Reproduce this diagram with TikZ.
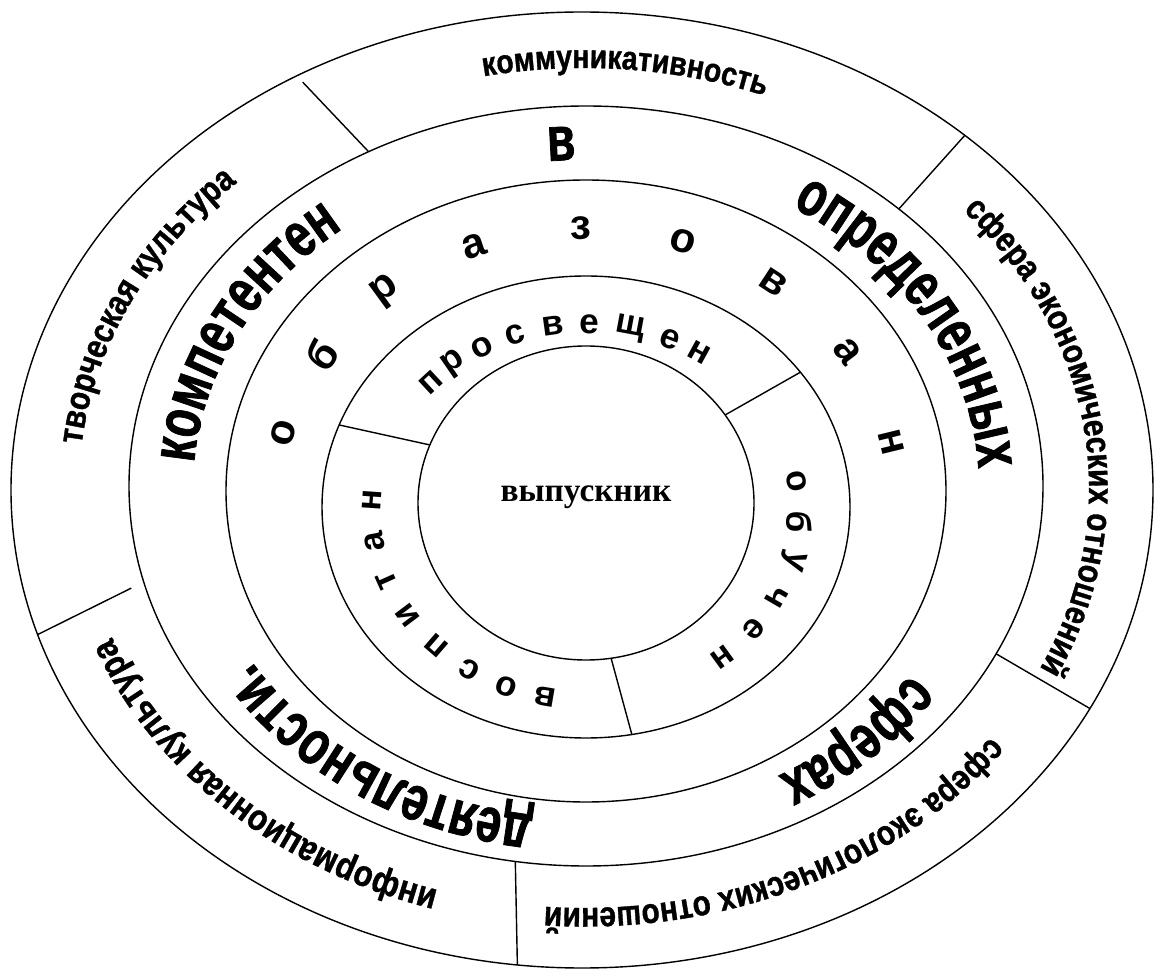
\documentclass[tikz,border=0pt]{standalone}
\usepackage{fontspec}
\setmainfont{Liberation Sans}
\newfontfamily\serfont{Liberation Serif}
\newfontfamily\narfont{Liberation Sans}[FakeStretch=0.85, FakeBold=1]
\newfontfamily\tallfont{Liberation Sans}[FakeStretch=0.72, FakeBold=1.2]
\usetikzlibrary{decorations.text}

\begin{document}
\begin{tikzpicture}[x=0.02cm,y=0.02cm]
        \tikzset{ring/.style = {draw, line width=0.8pt}}
        \tikzset{bar/.style = {line width=0.8pt}}
        \tikzset{bigletter/.style = {inner sep=0pt, font=\bfseries\fontsize{24}{24}\selectfont}}
        \tikzset{smallletter/.style = {inner sep=0pt, font=\bfseries\fontsize{20}{20}\selectfont}}
        \tikzset{curved/.style = {decorate, decoration={text along path, text align=center, text={#1}}}}
        \useasboundingbox (0,0) rectangle (1156,971);
        % centres
        \coordinate (c1) at (582,481);
        \coordinate (c2) at (586,485);
        \coordinate (c3) at (586,480);
        \coordinate (c4) at (586,464);
        \coordinate (c5) at (586,468);
        \coordinate (mo) at (584,483);
        \coordinate (mm) at (586,483);
        \coordinate (mi) at (586,472);
        \coordinate (mc) at (586,459);
        % rings
        \draw[ring] (c1) ellipse [x radius=571, y radius=478];
        \draw[ring] (c2) ellipse [x radius=457, y radius=380];
        \draw[ring] (c3) ellipse [x radius=360, y radius=311];
        \draw[ring] (c4) ellipse [x radius=264, y radius=231];
        \draw[ring] (c5) ellipse [x radius=168, y radius=157];
        % dividers
        \path (c2) ++(118.4:457 and 380) coordinate (d1a);
        \path (c1) ++(119.8:562 and 470) coordinate (d1b);
        \path (c2) ++(46.8:457 and 380) coordinate (d2a);
        \path (c1) ++(47.9:571 and 478) coordinate (d2b);
        \path (c1) ++(197.6:571 and 478) coordinate (d3a);
        \path (c2) ++(195.1:471 and 392) coordinate (d3b);
        \path (c2) ++(261.1:457 and 380) coordinate (d4a);
        \path (c1) ++(263.5:571 and 478) coordinate (d4b);
        \path (c2) ++(333.8:457 and 380) coordinate (d5a);
        \path (c1) ++(332.8:571 and 478) coordinate (d5b);
        \path (c4) ++(159.2:264 and 231) coordinate (e1a);
        \path (c5) ++(158.3:168 and 157) coordinate (e1b);
        \path (c4) ++(35.7:264 and 231) coordinate (e2a);
        \path (c5) ++(34.1:168 and 157) coordinate (e2b);
        \path (c5) ++(-81.4:168 and 157) coordinate (e3a);
        \path (c4) ++(-80:264 and 231) coordinate (e3b);
        \foreach \a/\b in {d1a/d1b, d2a/d2b, d3a/d3b, d4a/d4b, d5a/d5b, e1a/e1b, e2a/e2b, e3a/e3b}
            \draw[bar] (\a) -- (\b);
        % centre
        \node[font=\serfont\bfseries\fontsize{19}{19}\selectfont] (grad) at (586,474) {выпускник};
        % outer band
        \path[curved={|\narfont\bfseries\fontsize{19}{19}\selectfont|коммуникативность}]
            (mo) ++(125:505 and 420) arc [start angle=125, end angle=45, x radius=505, y radius=420];
        \path[curved={|\narfont\bfseries\fontsize{20}{20}\selectfont|творческая культура}]
            (mo) ++(195:505 and 420) arc [start angle=195, end angle=115, x radius=505, y radius=420];
        \path[curved={|\narfont\bfseries\fontsize{20}{20}\selectfont|сфера экономических отношений}]
            (mo) ++(57.5:505 and 420) arc [start angle=57.5, end angle=-42.5, x radius=505, y radius=420];
        \path[curved={|\narfont\bfseries\fontsize{20}{20}\selectfont|сфера экологических отношений}]
            (mo) ++(-14:505 and 420) arc [start angle=-14, end angle=-114, x radius=505, y radius=420];
        \path[curved={|\narfont\bfseries\fontsize{21}{21}\selectfont|информационная культура}]
            (mo) ++(275:505 and 420) arc [start angle=275, end angle=175, x radius=505, y radius=420];
        % middle band
        \path[curved={|\tallfont\bfseries\fontsize{36}{36}\selectfont|компетентен}]
            (mm) ++(193:393 and 330) arc [start angle=193, end angle=113, x radius=393, y radius=330];
        \path[curved={|\tallfont\bfseries\fontsize{36}{36}\selectfont|определенных}]
            (mm) ++(70:393 and 330) arc [start angle=70, end angle=-10, x radius=393, y radius=330];
        \path[curved={|\tallfont\bfseries\fontsize{36}{36}\selectfont|сферах}]
            (mm) ++(-16:393 and 330) arc [start angle=-16, end angle=-77, x radius=393, y radius=330];
        \path[curved={|\tallfont\bfseries\fontsize{36}{36}\selectfont|деятельности.}]
            (mm) ++(276:393 and 330) arc [start angle=276, end angle=196, x radius=393, y radius=330];
        \path (mm) ++(93.5:408 and 345) node[inner sep=0pt, font=\tallfont\bfseries\fontsize{36}{36}\selectfont,
            rotate={atan2(408*sin(93.5),345*cos(93.5))-90}] (vword) {в};
        % spaced letters
        \foreach \ch/\t [count=\i] in {о/166, б/148, р/130, а/111, з/91, о/72, в/53, а/33, н/12}
            \path (mi) ++(\t:312 and 271) node[bigletter, rotate={atan2(312*sin(\t),271*cos(\t))-90}] (ob\i) {\ch};
        \foreach \ch/\t [count=\i] in {п/136.5, р/128, о/119, с/109.5, в/99, е/89, щ/78, е/67, н/58}
            \path (mc) ++(\t:214 and 188) node[smallletter, rotate={atan2(214*sin(\t),188*cos(\t))-90}] (pr\i) {\ch};
        \foreach \ch/\t [count=\i] in {о/9.5, б/-3, у/-15, ч/-27, е/-38.5, н/-50.5}
            \path (mc) ++(\t:214 and 188) node[smallletter, rotate={atan2(214*sin(\t),188*cos(\t))-90}] (ou\i) {\ch};
        \foreach \ch/\t [count=\i] in {в/259, о/248, с/237, п/225.5, и/213.5, т/201.5, а/189, н/176.5}
            \path (mc) ++(\t:214 and 188) node[smallletter, rotate={atan2(214*sin(\t),188*cos(\t))-90}] (vo\i) {\ch};
    \end{tikzpicture}
\end{document}
